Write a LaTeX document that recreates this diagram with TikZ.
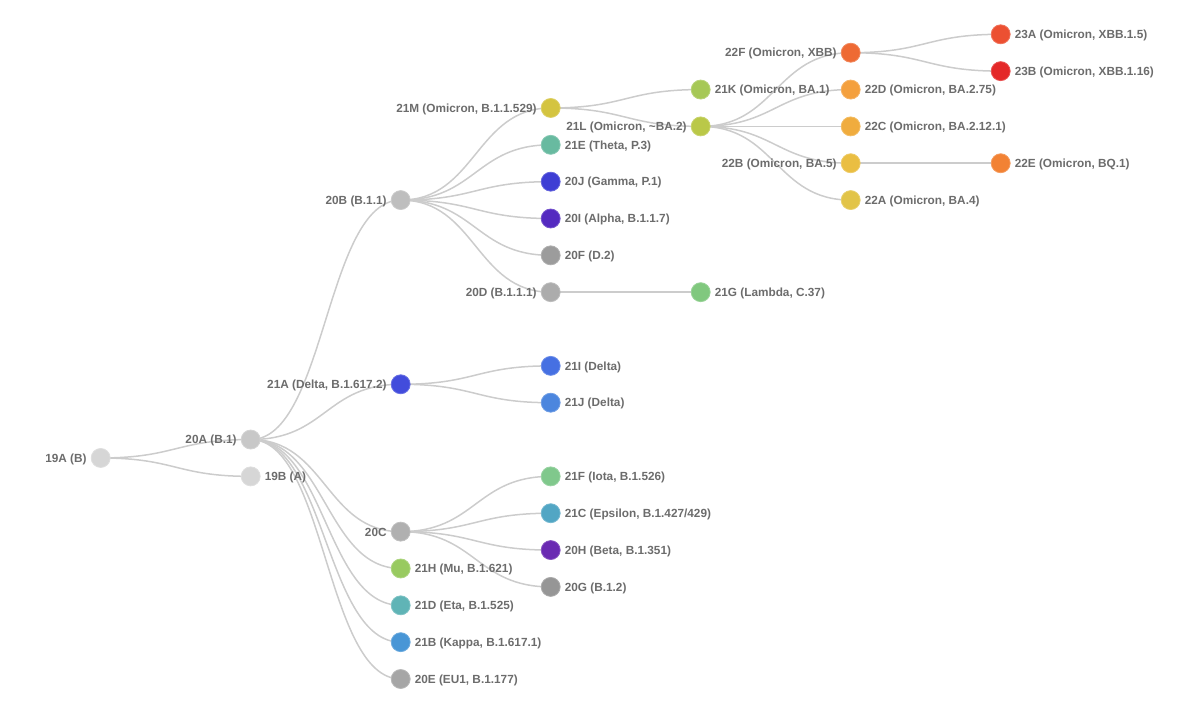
\documentclass[tikz,border=0pt]{standalone}
\usepackage{fontspec}
\setmainfont{Liberation Sans}
\usepackage{xcolor}
\usetikzlibrary{calc,backgrounds}

\definecolor{linkgray}{RGB}{204,204,204}
\definecolor{textgray}{RGB}{108,108,108}
\definecolor{c19A}{RGB}{214,214,214}
\definecolor{c19B}{RGB}{214,214,214}
\definecolor{c20A}{RGB}{200,200,200}
\definecolor{c20B}{RGB}{190,190,190}
\definecolor{c20C}{RGB}{176,176,176}
\definecolor{c20D}{RGB}{172,172,172}
\definecolor{c20E}{RGB}{166,166,166}
\definecolor{c20F}{RGB}{156,156,156}
\definecolor{c20G}{RGB}{150,150,150}
\definecolor{c21A}{RGB}{66,76,220}
\definecolor{c21I}{RGB}{70,112,226}
\definecolor{c21J}{RGB}{76,134,222}
\definecolor{c21M}{RGB}{212,196,64}
\definecolor{c21K}{RGB}{166,200,86}
\definecolor{c21L}{RGB}{186,200,72}
\definecolor{c21E}{RGB}{104,186,160}
\definecolor{c20J}{RGB}{62,62,212}
\definecolor{c20I}{RGB}{84,42,192}
\definecolor{c21G}{RGB}{128,200,126}
\definecolor{c21F}{RGB}{128,200,140}
\definecolor{c21C}{RGB}{82,166,196}
\definecolor{c20H}{RGB}{106,42,178}
\definecolor{c21H}{RGB}{152,202,96}
\definecolor{c21D}{RGB}{96,180,182}
\definecolor{c21B}{RGB}{72,150,214}
\definecolor{c22F}{RGB}{238,106,52}
\definecolor{c23A}{RGB}{236,80,50}
\definecolor{c23B}{RGB}{228,40,40}
\definecolor{c22D}{RGB}{244,160,62}
\definecolor{c22C}{RGB}{240,172,62}
\definecolor{c22B}{RGB}{234,190,66}
\definecolor{c22E}{RGB}{242,130,52}
\definecolor{c22A}{RGB}{226,196,72}

\tikzset{
  clade/.style={circle, minimum size=9.5pt, inner sep=0pt, fill=#1, draw=#1!80!white, line width=0.4pt},
  lbl/.style={inner sep=0pt, yshift=-0.6pt, text=textgray, font=\fontsize{5.9}{7}\selectfont\bfseries},
  link/.style={draw=linkgray, line width=0.75pt},
  every label/.style={lbl},
  label distance=1.9pt
}

\begin{document}
\begin{tikzpicture}[x=75pt,y=-9.21pt]
    \useasboundingbox (-0.6713,-1.862) rectangle (7.3287,36.737);

    \node[clade=c19A, label=left:{19A (B)}] (19A) at (0, 23) {};

    \node[clade=c20A, label=left:{20A (B.1)}] (20A) at (1, 22) {};
    \node[clade=c19B, label=right:{19B (A)}] (19B) at (1, 24) {};

    \node[clade=c20B, label=left:{20B (B.1.1)}] (20B) at (2, 9) {};
    \node[clade=c21A, label=left:{21A (Delta, B.1.617.2)}] (21A) at (2, 19) {};
    \node[clade=c20C, label=left:{20C}] (20C) at (2, 27) {};
    \node[clade=c21H, label=right:{21H (Mu, B.1.621)}] (21H) at (2, 29) {};
    \node[clade=c21D, label=right:{21D (Eta, B.1.525)}] (21D) at (2, 31) {};
    \node[clade=c21B, label=right:{21B (Kappa, B.1.617.1)}] (21B) at (2, 33) {};
    \node[clade=c20E, label=right:{20E (EU1, B.1.177)}] (20E) at (2, 35) {};

    \node[clade=c21M, label=left:{21M (Omicron, B.1.1.529)}] (21M) at (3, 4) {};
    \node[clade=c21E, label=right:{21E (Theta, P.3)}] (21E) at (3, 6) {};
    \node[clade=c20J, label=right:{20J (Gamma, P.1)}] (20J) at (3, 8) {};
    \node[clade=c20I, label=right:{20I (Alpha, B.1.1.7)}] (20I) at (3, 10) {};
    \node[clade=c20F, label=right:{20F (D.2)}] (20F) at (3, 12) {};
    \node[clade=c20D, label=left:{20D (B.1.1.1)}] (20D) at (3, 14) {};
    \node[clade=c21I, label=right:{21I (Delta)}] (21I) at (3, 18) {};
    \node[clade=c21J, label=right:{21J (Delta)}] (21J) at (3, 20) {};
    \node[clade=c21F, label=right:{21F (Iota, B.1.526)}] (21F) at (3, 24) {};
    \node[clade=c21C, label=right:{21C (Epsilon, B.1.427/429)}] (21C) at (3, 26) {};
    \node[clade=c20H, label=right:{20H (Beta, B.1.351)}] (20H) at (3, 28) {};
    \node[clade=c20G, label=right:{20G (B.1.2)}] (20G) at (3, 30) {};

    \node[clade=c21K, label=right:{21K (Omicron, BA.1)}] (21K) at (4, 3) {};
    \node[clade=c21L, label=left:{21L (Omicron, \textasciitilde BA.2)}] (21L) at (4, 5) {};
    \node[clade=c21G, label=right:{21G (Lambda, C.37)}] (21G) at (4, 14) {};

    \node[clade=c22F, label=left:{22F (Omicron, XBB)}] (22F) at (5, 1) {};
    \node[clade=c22D, label=right:{22D (Omicron, BA.2.75)}] (22D) at (5, 3) {};
    \node[clade=c22C, label=right:{22C (Omicron, BA.2.12.1)}] (22C) at (5, 5) {};
    \node[clade=c22B, label=left:{22B (Omicron, BA.5)}] (22B) at (5, 7) {};
    \node[clade=c22A, label=right:{22A (Omicron, BA.4)}] (22A) at (5, 9) {};

    \node[clade=c23A, label=right:{23A (Omicron, XBB.1.5)}] (23A) at (6, 0) {};
    \node[clade=c23B, label=right:{23B (Omicron, XBB.1.16)}] (23B) at (6, 2) {};
    \node[clade=c22E, label=right:{22E (Omicron, BQ.1)}] (22E) at (6, 7) {};

%links
    \begin{scope}[on background layer]
    \foreach \from/\to in {19A/20A, 19A/19B,
        20A/20B, 20A/21A, 20A/20C, 20A/21H, 20A/21D, 20A/21B, 20A/20E,
        20B/21M, 20B/21E, 20B/20J, 20B/20I, 20B/20F, 20B/20D,
        20D/21G, 21A/21I, 21A/21J,
        20C/21F, 20C/21C, 20C/20H, 20C/20G,
        21M/21K, 21M/21L,
        21L/22F, 21L/22D, 21L/22C, 21L/22B, 21L/22A,
        22F/23A, 22F/23B, 22B/22E}
      \draw[link] let \p1=(\from), \p2=(\to) in
        (\p1) .. controls ({(\x1+\x2)/2},\y1) and ({(\x1+\x2)/2},\y2) .. (\p2);
    \end{scope}

\end{tikzpicture}
\end{document}
